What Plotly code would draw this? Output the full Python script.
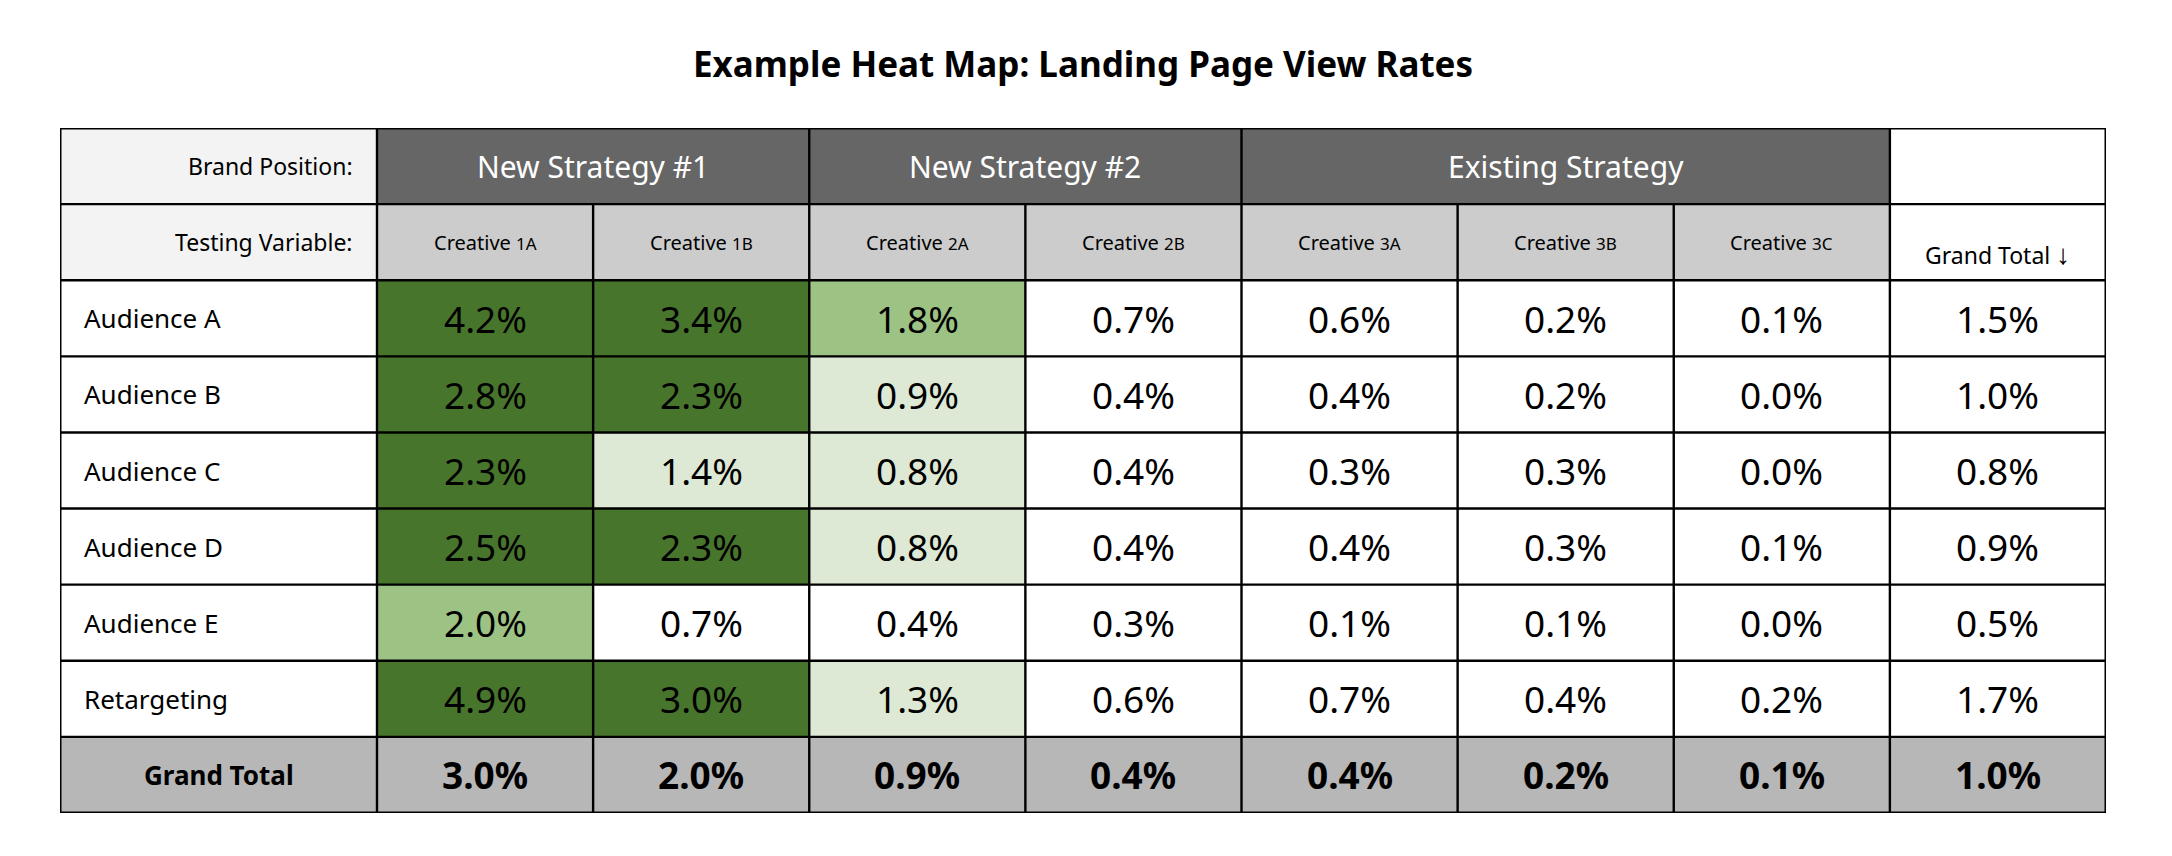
import plotly.graph_objects as go

# ---------------- data ----------------
title = "Example Heat Map: Landing Page View Rates"
strategies = ["New Strategy #1", "New Strategy #2", "Existing Strategy"]
strategy_spans = [2, 2, 3]
creative_nums = ["1A", "1B", "2A", "2B", "3A", "3B", "3C"]
row_labels = ["Audience A", "Audience B", "Audience C", "Audience D", "Audience E", "Retargeting"]
values = [
    [4.2, 3.4, 1.8, 0.7, 0.6, 0.2, 0.1],
    [2.8, 2.3, 0.9, 0.4, 0.4, 0.2, 0.0],
    [2.3, 1.4, 0.8, 0.4, 0.3, 0.3, 0.0],
    [2.5, 2.3, 0.8, 0.4, 0.4, 0.3, 0.1],
    [2.0, 0.7, 0.4, 0.3, 0.1, 0.1, 0.0],
    [4.9, 3.0, 1.3, 0.6, 0.7, 0.4, 0.2],
]
row_totals = [1.5, 1.0, 0.8, 0.9, 0.5, 1.7]
col_totals = [3.0, 2.0, 0.9, 0.4, 0.4, 0.2, 0.1]
grand_total = 1.0

# ---------------- style ----------------
FONT = "Noto Sans"
palette = ["#ffffff", "#f3f3f3", "#666666", "#cccccc", "#b7b7b7",
           "#dde9d4", "#9dc384", "#48752c"]
WHITE, LABEL, DARK, HEAD2, TOTAL, G1, G2, G3 = range(8)
thresholds = [(2.3, G3), (1.5, G2), (0.8, G1)]


def shade(v):
    for t, c in thresholds:
        if v >= t:
            return c
    return WHITE


n_cre = len(creative_nums)
ncols = 1 + n_cre + 1
nrows = 2 + len(row_labels) + 1
label_w = 317 / 216.125
x_edges = [0, label_w] + [label_w + i + 1 for i in range(ncols - 1)]
y_edges = list(range(nrows + 1))

# color code matrix
z = []
z.append([LABEL] + [DARK] * n_cre + [WHITE])
z.append([LABEL] + [HEAD2] * n_cre + [WHITE])
for r in range(len(row_labels)):
    z.append([WHITE] + [shade(v) for v in values[r]] + [WHITE])
z.append([TOTAL] * ncols)

n = len(palette)
colorscale = [[i / (n - 1), c] for i, c in enumerate(palette)]

fig = go.Figure()
fig.add_trace(go.Heatmap(
    z=z, x=x_edges, y=y_edges, colorscale=colorscale, zmin=0, zmax=n - 1,
    showscale=False, hoverinfo="skip", xgap=0, ygap=0,
))


def xc(c):
    return (x_edges[c] + x_edges[c + 1]) / 2


def yc(r):
    return r + 0.5


ann = []


def add(text, x, y, size, color="#000000", bold=False, xanchor="center", xshift=0, yshift=0):
    if bold:
        text = f"<b>{text}</b>"
    ann.append(dict(text=text, x=x, y=y, xref="x", yref="y", showarrow=False,
                    xanchor=xanchor, yanchor="middle", xshift=xshift, yshift=yshift,
                    font=dict(family=FONT, size=size, color=color)))


# header row 1
add("Brand Position:", x_edges[1], yc(0), 23, xanchor="right", xshift=-22)
c0 = 1
for s, span in zip(strategies, strategy_spans):
    add(s, (x_edges[c0] + x_edges[c0 + span]) / 2, yc(0), 30, color="#ffffff")
    c0 += span

# header row 2
add("Testing Variable:", x_edges[1], yc(1), 23, xanchor="right", xshift=-22)
for i, cn in enumerate(creative_nums):
    add(f"Creative <span style='font-size:17px'>{cn}</span>", xc(1 + i), yc(1), 20)
add("Grand Total <span style='font-size:28px'>↓</span>", xc(ncols - 1), yc(1), 23, yshift=-11)

# body
for r, lab in enumerate(row_labels):
    add(lab, x_edges[0], yc(2 + r), 26, xanchor="left", xshift=22)
    for i, v in enumerate(values[r]):
        add(f"{v:.1f}%", xc(1 + i), yc(2 + r), 37)
    add(f"{row_totals[r]:.1f}%", xc(ncols - 1), yc(2 + r), 37)

# grand total row
rt = nrows - 1
add("Grand Total", xc(0), yc(rt), 26, bold=True)
for i, v in enumerate(col_totals):
    add(f"{v:.1f}%", xc(1 + i), yc(rt), 37, bold=True)
add(f"{grand_total:.1f}%", xc(ncols - 1), yc(rt), 37, bold=True)

# grid lines
shapes = []
LW = 2.4
xmax = x_edges[-1]
for r in y_edges:
    w = 3 if r in (0, nrows) else LW
    shapes.append(dict(type="line", xref="x", yref="y", x0=0, x1=xmax, y0=r, y1=r,
                       line=dict(color="#000000", width=w)))
# header row 1 vertical lines only at group edges
group_edges = [0, 1]
c0 = 1
for span in strategy_spans:
    c0 += span
    group_edges.append(c0)
group_edges.append(ncols)
for ci in sorted(set(group_edges)):
    w = 3 if ci in (0, ncols) else LW
    shapes.append(dict(type="line", xref="x", yref="y", x0=x_edges[ci], x1=x_edges[ci],
                       y0=0, y1=1, line=dict(color="#000000", width=w)))
for ci in range(ncols + 1):
    w = 3 if ci in (0, ncols) else LW
    shapes.append(dict(type="line", xref="x", yref="y", x0=x_edges[ci], x1=x_edges[ci],
                       y0=1, y1=nrows, line=dict(color="#000000", width=w)))

fig.update_layout(
    width=2172, height=856,
    margin=dict(l=52, r=74, t=120, b=51),
    paper_bgcolor="#ffffff", plot_bgcolor="#ffffff",
    title=dict(text=f"<b>{title}</b>", x=0.5, xref="paper", y=1 - 57 / 856,
               yref="container", xanchor="center", yanchor="middle",
               font=dict(family=FONT, size=35, color="#000000")),
    xaxis=dict(range=[0, xmax], visible=False, fixedrange=True),
    yaxis=dict(range=[nrows, 0], visible=False, fixedrange=True),
    annotations=ann, shapes=shapes,
)

fig.write_html("out.html")
